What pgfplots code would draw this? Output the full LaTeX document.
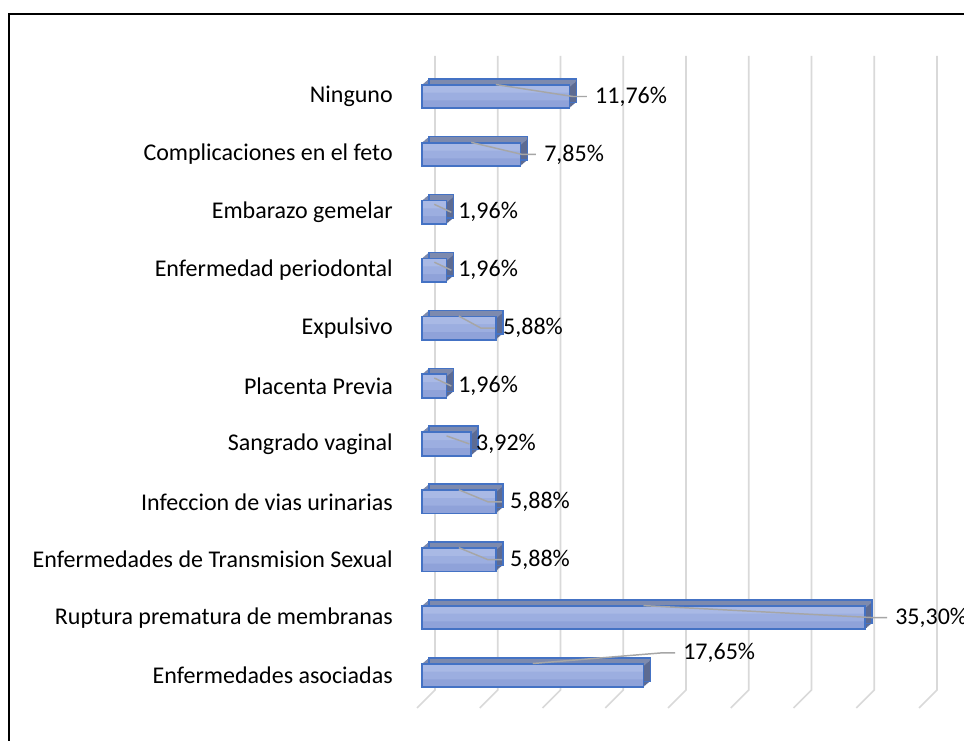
\documentclass[border=0pt]{standalone}
\usepackage{pgfplots}
\pgfplotsset{compat=1.18}
\usepackage{pgfplotstable}
\usepackage{fontspec}
\setmainfont{Carlito}

\definecolor{fronttop}{HTML}{A9B9E5}
\definecolor{frontmid}{HTML}{9CAEE0}
\definecolor{frontbot}{HTML}{8FA2D9}
\definecolor{edgec}{HTML}{4472C4}
\definecolor{topc}{HTML}{7D8AAE}
\definecolor{sidec}{HTML}{5D6B92}
\definecolor{gridc}{HTML}{D9D9D9}
\definecolor{leadc}{HTML}{A6A6A6}
\newcommand\fs{\fontsize{18pt}{21pt}\selectfont}

% k = row from bottom, v = percent
\pgfplotstableread{
k v
0 17.65
1 35.30
2 5.88
3 5.88
4 3.92
5 1.96
6 5.88
7 1.96
8 1.96
9 7.85
10 11.76
}\data

% data label with leader line: half value, k, label x, label y, text
\newcommand\dlab[5]{%
  \node[font=\fs, anchor=west, inner sep=0pt] (L#2) at (axis cs:#3,#4) {#5};
  \draw[leadc, line width=1.1pt] ([yshift=9pt]axis cs:#1,#2) -- ([xshift=-16.5pt]L#2.west) -- ([xshift=-6pt]L#2.west);
}
\newcommand\dlabs[5]{%
  \node[font=\fs, anchor=west, inner sep=0pt] (L#2) at (axis cs:#3,#4) {#5};
  \draw[leadc, line width=1.1pt] ([yshift=6pt]axis cs:#1,#2) -- ([xshift=-5pt]L#2.west);
}

\begin{document}
\begin{tikzpicture}
\useasboundingbox (0pt,0pt) rectangle (723pt,-555pt);
\fill[white] (0pt,0pt) rectangle (723pt,-555pt);
\draw[line width=1.5pt] (6.75pt,-570pt) -- (6.75pt,-10.5pt) -- (743pt,-10.5pt);
\begin{axis}[
  at={(316.5pt,-550.05pt)}, anchor=south west, scale only axis,
  width=376.5pt, height=521.1pt,
  xmin=0, xmax=40, ymin=-1, ymax=11, clip=false,
  axis x line=none, axis y line*=left, y axis line style={draw=none},
  ytick={0,...,10}, ytick style={draw=none},
  yticklabels={Enfermedades asociadas,Ruptura prematura de membranas,Enfermedades de Transmision Sexual,Infeccion de vias urinarias,Sangrado vaginal,Placenta Previa,Expulsivo,Enfermedad periodontal,Embarazo gemelar,Complicaciones en el feto,Ninguno},
  yticklabel style={font=\fs, anchor=east, inner sep=0pt, xshift=-21.75pt},
  bar3/.style={xbar, bar shift=0pt, bar width=17.6pt},
]
% back wall and floor gridlines
\pgfplotsinvokeforeach{0,5,...,40}{
  \draw[gridc, line width=1.2pt] ([xshift=9.75pt]axis cs:#1,10.7) -- ([xshift=9.75pt]axis cs:#1,-0.25) -- ([xshift=-3.75pt]axis cs:#1,-0.56);
}
% depth of the bars
\addplot[bar3, fill=sidec, draw=none, xshift=5.25pt, yshift=4.5pt] table[x=v,y=k]{\data};
\pgfplotsinvokeforeach{1,...,7}{
  \addplot[bar3, fill=sidec, draw=none, xshift=#1*0.656pt, yshift=#1*0.5625pt] table[x=v,y=k]{\data};
}
\pgfplotsinvokeforeach{0,...,8}{
  \addplot[xbar, bar shift=7.8pt, bar width=2pt, fill=topc, draw=none, xshift=#1*0.656pt, yshift=#1*0.5625pt] table[x=v,y=k]{\data};
}
\addplot[bar3, fill=none, draw=edgec, line width=1.1pt, xshift=5.25pt, yshift=4.5pt] table[x=v,y=k]{\data};
% front faces, light at the top and darker below
\addplot[bar3, fill=frontbot, draw=none] table[x=v,y=k]{\data};
\addplot[xbar, bar shift=2.95pt, bar width=11.7pt, fill=frontmid, draw=none] table[x=v,y=k]{\data};
\addplot[xbar, bar shift=5.85pt, bar width=5.9pt, fill=fronttop, draw=none] table[x=v,y=k]{\data};
\addplot[bar3, fill=none, draw=edgec, line width=1.3pt] table[x=v,y=k]{\data};

\dlab{5.88}{10}{13.78}{10}{11,76\%}
\dlab{3.925}{9}{9.72}{9}{7,85\%}
\dlabs{0.98}{8}{2.87}{8}{1,96\%}
\dlabs{0.98}{7}{2.87}{7}{1,96\%}
\dlab{2.94}{6}{6.45}{6}{5,88\%}
\dlabs{0.98}{5}{2.87}{5}{1,96\%}
\dlabs{1.96}{4}{4.30}{4}{3,92\%}
\dlab{2.94}{3}{7.01}{3}{5,88\%}
\dlab{2.94}{2}{7.01}{2}{5,88\%}
\dlab{17.65}{1}{37.69}{1}{35,30\%}
\dlab{8.825}{0}{20.80}{0.39}{17,65\%}
\end{axis}
\end{tikzpicture}
\end{document}
